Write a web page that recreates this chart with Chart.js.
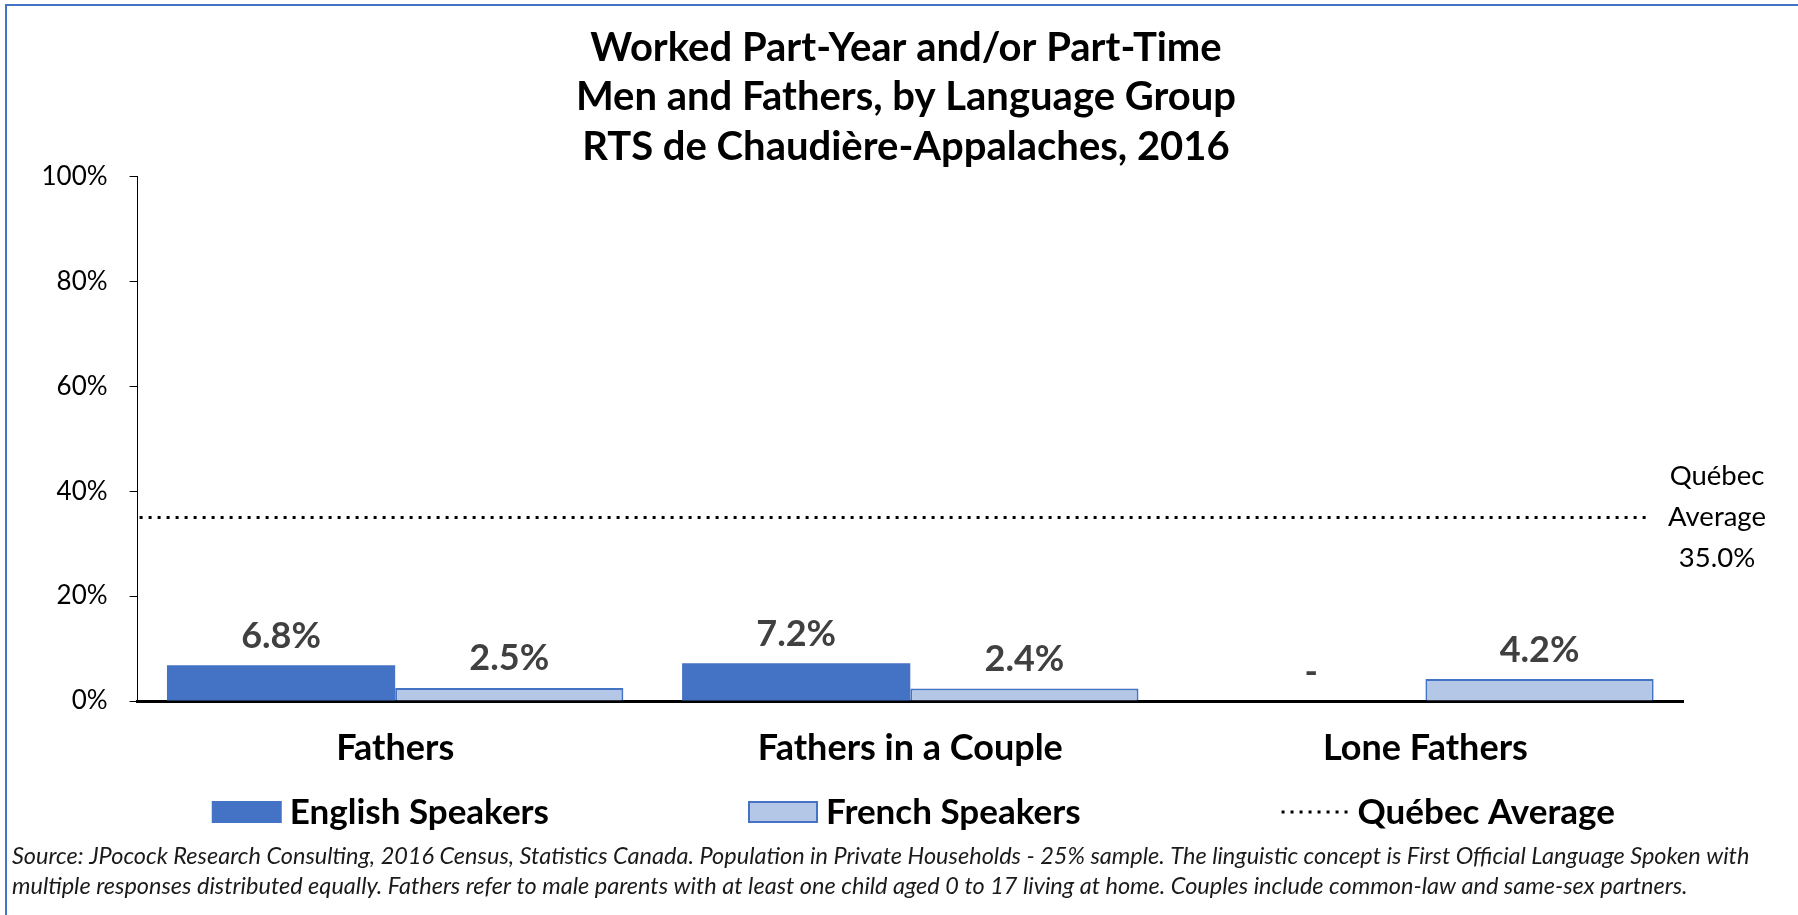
<!DOCTYPE html>
<html>
<head>
<meta charset="utf-8">
<script src="https://cdn.jsdelivr.net/npm/chart.js@4.4.1/dist/chart.umd.min.js"></script>
<style>
html,body{margin:0;padding:0;background:#fff;}
canvas{display:block;}
</style>
</head>
<body>
<canvas id="c" width="1798" height="915"></canvas>
<script>
// ---- data ----
const categories = ['Fathers', 'Fathers in a Couple', 'Lone Fathers'];
const englishSpeakers = [6.8, 7.2, null];
const frenchSpeakers = [2.5, 2.4, 4.2];
const quebecAverage = 35.0;
const yTicks = [0, 20, 40, 60, 80, 100];
const seriesNames = ['English Speakers', 'French Speakers', 'Québec Average'];
const titleLines = ['Worked Part-Year and/or Part-Time', 'Men and Fathers, by Language Group', 'RTS de Chaudière-Appalaches, 2016'];
const avgLabelLines = ['Québec', 'Average', '35.0%'];
const sourceLines = [
  'Source: JPocock Research Consulting, 2016 Census, Statistics Canada. Population in Private Households - 25% sample. The linguistic concept is First Official Language Spoken with',
  'multiple responses distributed equally. Fathers refer to male parents with at least one child aged 0 to 17 living at home. Couples include common-law and same-sex partners.'
];

const FONT = 'Lato, "Open Sans", sans-serif';
const BLUE = '#4472C4';
const LIGHT = '#B4C7E7';

const framePlugin = {
  id: 'frame',
  beforeDraw(chart) {
    const c = chart.ctx;
    c.save();
    c.fillStyle = '#fff';
    c.fillRect(0, 0, chart.width, chart.height);
    c.strokeStyle = BLUE;
    c.lineWidth = 2;
    c.beginPath();
    c.moveTo(6, chart.height);
    c.lineTo(6, 5);
    c.lineTo(chart.width, 5);
    c.stroke();
    c.restore();
  }
};

const avgPlugin = {
  id: 'avgLine',
  afterDatasetsDraw(chart) {
    const {ctx, chartArea, scales} = chart;
    const py = scales.y.getPixelForValue(quebecAverage);
    const meta = chart.getDatasetMeta(1);
    const last = meta.data[meta.data.length - 1];
    const xEnd = last.x + last.width / 2 - 4;
    ctx.save();
    ctx.strokeStyle = '#000';
    ctx.lineWidth = 3;
    ctx.setLineDash([3, 6]);
    ctx.beginPath();
    ctx.moveTo(chartArea.left + 2, py);
    ctx.lineTo(xEnd, py);
    ctx.stroke();
    ctx.setLineDash([]);
    ctx.fillStyle = '#000';
    ctx.font = '27.5px ' + FONT;
    ctx.textAlign = 'center';
    ctx.textBaseline = 'middle';
    const cx = chartArea.right + 34;
    avgLabelLines.forEach((t, i) => ctx.fillText(t, cx, py + (i - 1) * 41));
    ctx.restore();
  }
};

const labelPlugin = {
  id: 'barLabels',
  afterDatasetsDraw(chart) {
    const {ctx, scales} = chart;
    ctx.save();
    ctx.fillStyle = '#404040';
    ctx.font = 'bold 36px ' + FONT;
    ctx.textAlign = 'center';
    ctx.textBaseline = 'middle';
    chart.data.datasets.forEach((ds, di) => {
      const meta = chart.getDatasetMeta(di);
      meta.data.forEach((bar, i) => {
        const v = ds.data[i];
        const top = (v == null) ? scales.y.getPixelForValue(0) : bar.y;
        const txt = (v == null) ? '-' : v.toFixed(1) + '%';
        ctx.fillText(txt, bar.x, top - 29);
      });
    });
    ctx.restore();
  }
};

const legendPlugin = {
  id: 'customLegend',
  afterDraw(chart) {
    const {ctx, chartArea} = chart;
    ctx.save();
    ctx.font = 'bold 35px ' + FONT;
    ctx.textBaseline = 'middle';
    ctx.textAlign = 'left';
    const sw = 70, sh = 22, gapText = 8, gapItem = 199;
    const widths = seriesNames.map(n => sw + gapText + ctx.measureText(n).width);
    const total = widths.reduce((a, b) => a + b, 0) + gapItem * (widths.length - 1);
    let x = (chartArea.left + chartArea.right) / 2 - total / 2 + 3;
    const y = chartArea.bottom + 111;
    seriesNames.forEach((n, i) => {
      if (i === 0) {
        ctx.fillStyle = BLUE;
        ctx.fillRect(x, y - sh / 2, sw, sh);
      } else if (i === 1) {
        ctx.fillStyle = LIGHT;
        ctx.fillRect(x, y - sh / 2, sw, sh);
        ctx.strokeStyle = BLUE;
        ctx.lineWidth = 2;
        ctx.strokeRect(x + 1, y - sh / 2 + 1, sw - 2, sh - 2);
      } else {
        ctx.strokeStyle = '#000';
        ctx.lineWidth = 3;
        ctx.setLineDash([3, 6]);
        ctx.beginPath();
        ctx.moveTo(x + 2, y);
        ctx.lineTo(x + sw - 2, y);
        ctx.stroke();
        ctx.setLineDash([]);
      }
      ctx.fillStyle = '#000';
      ctx.fillText(n, x + sw + gapText, y + 1);
      x += widths[i] + gapItem;
    });
    // source note
    ctx.font = 'italic 23.5px ' + FONT;
    ctx.fillStyle = '#1a1a1a';
    const maxW = 1742;
    const ratio = Math.min(1, maxW / ctx.measureText(sourceLines[0]).width);
    sourceLines.forEach((t, i) => {
      ctx.fillText(t, 12, chart.height - 59 + i * 30, ctx.measureText(t).width * ratio);
    });
    ctx.restore();
  }
};

new Chart(document.getElementById('c'), {
  type: 'bar',
  data: {
    labels: categories,
    datasets: [
      {label: seriesNames[0], data: englishSpeakers, yAxisID: 'y', backgroundColor: BLUE, borderWidth: 0,
       categoryPercentage: 0.886, barPercentage: 1.0},
      {label: seriesNames[1], data: frenchSpeakers, yAxisID: 'y', backgroundColor: LIGHT, borderColor: BLUE, borderWidth: 2,
       categoryPercentage: 0.886, barPercentage: 1.0}
    ]
  },
  options: {
    responsive: false,
    animation: false,
    devicePixelRatio: 1,
    layout: {padding: {left: 20, right: 6, top: 23, bottom: 144}},
    plugins: {
      legend: {display: false},
      tooltip: {enabled: false},
      title: {
        display: true,
        text: titleLines,
        color: '#000',
        font: {family: FONT, size: 40, weight: 'bold', lineHeight: 1.2375},
        padding: {top: 0, bottom: 5}
      }
    },
    scales: {
      x: {
        grid: {display: false},
        border: {display: true, color: '#000', width: 3},
        ticks: {color: '#000', font: {family: FONT, size: 36, weight: 'bold'}, padding: 18},
        afterFit(s) { s.height = 70; }
      },
      y: {
        position: 'left',
        min: 0, max: 100,
        afterBuildTicks(s) { s.ticks = yTicks.map(v => ({value: v})); },
        grid: {display: true, drawOnChartArea: false, drawTicks: true, tickLength: 8, color: '#000', lineWidth: 1},
        border: {display: true, color: '#000', width: 1},
        ticks: {color: '#000', font: {family: FONT, size: 26}, padding: 22, callback: v => v + '%'},
        afterFit(s) { s.width = 117.6; }
      },
      yR: {
        position: 'right',
        display: true,
        grid: {display: false},
        border: {display: false},
        ticks: {display: false},
        afterFit(s) { s.width = 109; }
      }
    }
  },
  plugins: [framePlugin, avgPlugin, labelPlugin, legendPlugin]
});
</script>
</body>
</html>
